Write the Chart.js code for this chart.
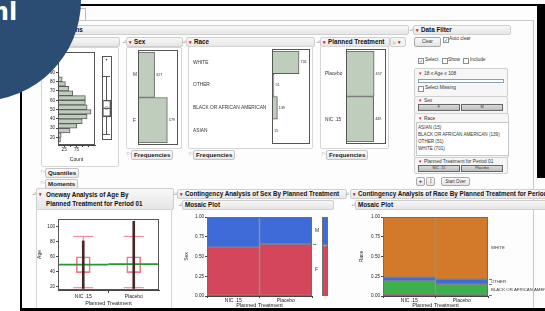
<!DOCTYPE html>
<html>
<head>
<meta charset="utf-8">
<script src="https://cdn.jsdelivr.net/npm/chart.js@4.4.1/dist/chart.umd.min.js"></script>
<style>
body { margin: 0; width: 545px; height: 311px; overflow: hidden; background: #fff; position: relative; font-family: "Liberation Sans", Arial, sans-serif; color: #222; }
.a { position: absolute; }
canvas { position: absolute; }
.hdr { position: absolute; height: 8px; border: 1px solid #cfcfcf; border-radius: 2px; background: linear-gradient(#f7f7f7, #e6e6e6); font: bold 6.3px/8px "Liberation Sans", Arial, sans-serif; color: #111; white-space: nowrap; overflow: hidden; padding-left: 2px; }
.red { color: #d42020; font-style: normal; font-size: 5px; margin-right: 2px; }
.tri { position: absolute; color: #a0a0a0; font-size: 5px; line-height: 8px; }
.pan { position: absolute; border: 1px solid #d6d6d6; background: #fff; border-radius: 2px; }
.btnb { position: absolute; height: 8px; border: 1px solid #c4c4c4; border-radius: 2px; background: linear-gradient(#fbfbfb, #e9e9e9); font: bold 6.2px/8px "Liberation Sans", Arial, sans-serif; padding: 0 2px; white-space: nowrap; }
.play { position: absolute; color: #9a9a9a; font-size: 4.5px; line-height: 8px; }
.t5 { position: absolute; font-size: 4.8px; line-height: 6px; color: #333; white-space: nowrap; }
.cb { position: absolute; width: 4px; height: 4px; border: 1px solid #8e8e8e; background: #fff; font-size: 5px; line-height: 4px; color: #2350c8; text-align: center; }
.btn { position: absolute; border: 1px solid #a9a9a9; border-radius: 2px; background: linear-gradient(#fafafa, #e4e4e4); font-size: 4.5px; text-align: center; color: #333; }
.btn2 { position: absolute; height: 5px; border: 1px solid #666; background: linear-gradient(#dadada, #bcbcbc); font-size: 3.8px; line-height: 5px; text-align: center; color: #333; }
.fbox { position: absolute; border: 1px solid #d0d0d0; background: #f6f6f6; border-radius: 2px; }
</style>
</head>
<body>
<!-- window -->
<div class="a" style="left:21px;top:4px;width:524px;height:307px;background:#fdfdfd"></div>
<div class="a" style="left:40px;top:8px;width:44px;height:12px;border:1px solid #bdbdbd;border-bottom:none;background:#fff"></div>
<div class="a" style="left:30px;top:20px;width:503px;height:290px;border-top:1px solid #c8c8c8;border-right:1px solid #c8c8c8"></div>

<!-- top headers -->
<div class="hdr" style="left:30px;top:25px;width:375px"><span style="margin-left:11px">Distributions</span></div>
<span class="tri" style="left:409px;top:25px">⊿</span>
<div class="hdr" style="left:413px;top:25px;width:94px"><i class="red">▾</i>Data Filter</div>

<div class="hdr" style="left:40px;top:37px;width:76px"><i class="red">▾</i>Age</div>
<span class="tri" style="left:122px;top:37px">⊿</span>
<div class="hdr" style="left:126px;top:37px;width:53px"><i class="red">▾</i>Sex</div>
<span class="tri" style="left:182px;top:37px">⊿</span>
<div class="hdr" style="left:186px;top:37px;width:125px"><i class="red">▾</i>Race</div>
<span class="tri" style="left:316px;top:37px">⊿</span>
<div class="hdr" style="left:320px;top:37px;width:66px"><i class="red">▾</i>Planned Treatment</div>
<div class="hdr" style="left:390px;top:37px;width:12px;background:#f4f4f4"><span style="color:#aaa;font-size:4px">▷</span> <i class="red">▾</i></div>

<!-- distribution panels -->
<div class="pan" style="left:41px;top:47px;width:76px;height:118px"></div>
<div class="pan" style="left:126px;top:47px;width:54px;height:100px"></div>
<div class="pan" style="left:188px;top:46px;width:123px;height:101px"></div>
<div class="pan" style="left:320px;top:46px;width:67px;height:101px"></div>

<span class="play" style="left:127px;top:150px">▷</span><div class="btnb" style="left:131px;top:150px">Frequencies</div>
<span class="play" style="left:189px;top:150px">▷</span><div class="btnb" style="left:193px;top:150px">Frequencies</div>
<span class="play" style="left:322px;top:150px">▷</span><div class="btnb" style="left:326px;top:150px">Frequencies</div>
<span class="play" style="left:41px;top:168px">▷</span><div class="btnb" style="left:45px;top:168px">Quantiles</div>
<span class="play" style="left:41px;top:179px">▷</span><div class="btnb" style="left:45px;top:179px">Moments</div>

<!-- data filter -->
<div class="btn" style="left:414px;top:37px;width:25px;height:8px;line-height:8px">Clear</div>
<div class="cb" style="left:443px;top:37px">✓</div><span class="t5" style="left:449px;top:36px">Auto clear</span>
<div class="cb" style="left:418px;top:58px">✓</div><span class="t5" style="left:425px;top:57px">Select</span>
<div class="cb" style="left:442px;top:58px"></div><span class="t5" style="left:448px;top:57px">Show</span>
<div class="cb" style="left:463px;top:58px"></div><span class="t5" style="left:470px;top:57px">Include</span>
<div class="fbox" style="left:414px;top:68px;width:92px;height:27px"></div>
<span class="t5" style="left:419px;top:70px"><i class="red">▾</i>18 ≤ Age ≤ 108</span>
<div class="a" style="left:418px;top:79px;width:84px;height:2px;border:1px solid #8aa0b8;background:#fff"></div>
<div class="cb" style="left:418px;top:86px"></div><span class="t5" style="left:425px;top:85px">Select Missing</span>
<div class="fbox" style="left:414px;top:96px;width:92px;height:16px"></div>
<span class="t5" style="left:419px;top:97px"><i class="red">▾</i>Sex</span>
<div class="btn2" style="left:418px;top:104px;width:40px">F</div>
<div class="btn2" style="left:461px;top:104px;width:40px">M</div>
<div class="fbox" style="left:414px;top:113px;width:93px;height:43px"></div>
<span class="t5" style="left:419px;top:115px"><i class="red">▾</i>Race</span>
<div class="a" style="left:416px;top:122px;width:90px;height:31px;border:1px solid #c8c8c8;background:#fff;overflow:hidden;font-size:4.6px;line-height:7px;padding-top:1px;padding-left:1px;white-space:nowrap;color:#333">ASIAN (15)<br>BLACK OR AFRICAN AMERICAN (139)<br>OTHER (51)<br>WHITE (701)</div>
<div class="fbox" style="left:414px;top:157px;width:92px;height:15px"></div>
<span class="t5" style="left:419px;top:158px"><i class="red">▾</i>Planned Treatment for Period 01</span>
<div class="btn2" style="left:418px;top:165px;width:40px">NIC .15</div>
<div class="btn2" style="left:461px;top:165px;width:40px">Placebo</div>
<div class="btn" style="left:416px;top:177px;width:7px;height:7px;line-height:7px;font-weight:bold;font-size:6px">+</div>
<div class="btn" style="left:426px;top:177px;width:7px;height:7px;line-height:7px;font-weight:bold;font-size:6px">⁝</div>
<div class="btn" style="left:441px;top:177px;width:27px;height:7px;line-height:7px">Start Over</div>

<!-- bottom headers -->
<span class="tri" style="left:32px;top:189px">⊿</span>
<div class="hdr" style="left:36px;top:188px;width:134px;height:19px;line-height:9px;padding-top:1px"><i class="red" style="position:absolute;left:2px;top:1px">▾</i><div style="padding-left:7px">Oneway Analysis of Age By<br>Planned Treatment for Period 01</div></div>
<div class="pan" style="left:36px;top:209px;width:134px;height:110px;border-radius:0"></div>
<span class="tri" style="left:173px;top:189px">⊿</span>
<div class="hdr" style="left:177px;top:189px;width:166px"><i class="red">▾</i>Contingency Analysis of Sex By Planned Treatment</div>
<span class="tri" style="left:178px;top:200px">⊿</span>
<div class="hdr" style="left:182px;top:200px;width:148px">Mosaic Plot</div>
<span class="tri" style="left:345px;top:189px">⊿</span>
<div class="hdr" style="left:350px;top:189px;width:210px"><i class="red">▾</i>Contingency Analysis of Race By Planned Treatment for Period 01</div>
<span class="tri" style="left:351px;top:200px">⊿</span>
<div class="hdr" style="left:355px;top:200px;width:200px">Mosaic Plot</div>

<!-- charts -->
<canvas id="ageHist" width="52" height="118" style="left:44px;top:48px"></canvas>
<canvas id="ageBox" width="21" height="95" style="left:96px;top:50px"></canvas>
<canvas id="sexDist" width="50" height="100" style="left:130px;top:48px"></canvas>
<canvas id="raceDist" width="122" height="100" style="left:190px;top:47px"></canvas>
<canvas id="trtDist" width="66" height="100" style="left:322px;top:47px"></canvas>
<canvas id="oneway" width="134" height="103" style="left:36px;top:208px"></canvas>
<canvas id="sexMosaic" width="140" height="99" style="left:180px;top:212px"></canvas>
<canvas id="sexMargin" width="6" height="79" style="left:322px;top:217px"></canvas>
<canvas id="raceMosaic" width="195" height="99" style="left:350px;top:212px"></canvas>

<!-- window frame -->
<div class="a" style="left:0;top:4px;width:545px;height:2px;background:#000"></div>
<div class="a" style="left:537px;top:4px;width:8px;height:174px;background:#000"></div>
<div class="a" style="left:20px;top:4px;width:2px;height:307px;background:#000"></div>
<div class="a" style="left:20px;top:308px;width:525px;height:3px;background:#000"></div>

<!-- badge -->
<div class="a" style="left:-121px;top:-101px;width:202px;height:202px;border-radius:50%;background:#2c4d73"></div>
<div class="a" style="left:-16px;top:0;font:bold 24px/24px 'DejaVu Sans', sans-serif;color:#fff">ml</div>

<script>
// Age distribution (bins of 5 years)
const ageBinStart = [15, 20, 25, 30, 35, 40, 45, 50, 55, 60, 65, 70, 75, 80, 85, 105];
const ageBinCount = [10, 13, 49, 76, 98, 118, 134, 118, 111, 111, 60, 44, 30, 17, 4, 1];
const ageTicks = [20, 30, 40, 50, 60, 70, 80, 90, 100, 110];
const countTicks = [25, 50, 75, 100, 125];
const countTickLabels = ['25', '', '75', '', ''];
// outlier box plot: low whisker, q1, median, q3, high whisker
const ageQuantiles = [18, 39, 49, 59, 87];
const ageMean = 49.5;
const ageShortestHalf = [41, 59];
const ageOutliers = [107];

// one-way distributions
const sexLevels = ['M', 'F'];
const sexCounts = [327, 579];
const raceLevels = ['WHITE', 'OTHER', 'BLACK OR AFRICAN AMERICAN', 'ASIAN'];
const raceCounts = [701, 51, 139, 15];
const trtLevels = ['Placebo', 'NIC .15'];
const trtCounts = [457, 449];

// oneway analysis of age by treatment
const trtGroups = ['NIC .15', 'Placebo'];
const groupMin = [18, 18];
const groupMax = [81, 107];
const groupQ1 = [39, 39];
const groupQ3 = [60, 60];
const groupLow = [19, 19];
const groupHigh = [87, 87];
const groupMean = [49.6, 50.2];
const onewayTicks = [20, 30, 40, 50, 60, 70, 80, 90, 100, 110];

// contingency tables, levels listed bottom to top
const sexMosaicLevels = ['F', 'M'];
const sexByTrt = [[278, 301], [171, 156]];
const sexColors = ['#d4475a', '#3f6bd8'];
const raceMosaicLevels = ['ASIAN', 'BLACK OR AFRICAN AMERICAN', 'OTHER', 'WHITE'];
const raceByTrt = [[9, 6], [76, 63], [22, 29], [342, 359]];
const raceColors = ['#8e2443', '#3cb04a', '#3f6bd8', '#d27a29'];
const mosaicTicks = [0, 0.25, 0.5, 0.75, 1];

Chart.defaults.font.family = '"Liberation Sans", Arial, sans-serif';
Chart.defaults.font.size = 4.6;
Chart.defaults.color = '#222';
Chart.defaults.animation = false;
Chart.defaults.responsive = false;
Chart.defaults.devicePixelRatio = 1;
Chart.defaults.plugins.legend.display = false;
Chart.defaults.plugins.tooltip.enabled = false;

// white plot area with a thin frame around it
Chart.register({
  id: 'frame',
  defaults: { color: '#6a6a6a', padY: 0 },
  beforeDraw(chart, args, o) {
    const a = chart.chartArea, ctx = chart.ctx;
    ctx.save();
    ctx.fillStyle = '#fff';
    ctx.fillRect(a.left, a.top - o.padY, a.right - a.left, a.bottom - a.top + 2 * o.padY);
    ctx.restore();
  },
  afterDraw(chart, args, o) {
    const a = chart.chartArea, ctx = chart.ctx;
    ctx.save();
    ctx.strokeStyle = o.color;
    ctx.lineWidth = 1;
    ctx.strokeRect(Math.round(a.left) + 0.5, Math.round(a.top - o.padY) + 0.5,
      Math.round(a.right - a.left) - 1, Math.round(a.bottom - a.top + 2 * o.padY) - 1);
    ctx.restore();
  }
});

const fixW = w => s => { s.width = w; };
const fixH = h => s => { s.height = h; };
const setTicks = list => s => { s.ticks = list.map(v => ({ value: v })); };
const axisGrid = { drawOnChartArea: false, tickLength: 2, color: '#444', offset: false };

// count written at the end of each bar
const barCounts = {
  id: 'barCounts',
  afterDatasetsDraw(chart) {
    const ctx = chart.ctx, meta = chart.getDatasetMeta(0), vals = chart.data.datasets[0].data;
    ctx.save();
    ctx.font = '3.8px "Liberation Sans", Arial';
    ctx.fillStyle = '#333';
    ctx.textBaseline = 'middle';
    meta.data.forEach((bar, i) => ctx.fillText(String(vals[i]), bar.x + 1.5, bar.y));
    ctx.restore();
  }
};

// level names at the right of a mosaic, centred on the last column
const sideLabels = {
  id: 'sideLabels',
  afterDraw(chart, args, o) {
    const ctx = chart.ctx, a = chart.chartArea, y = chart.scales.y;
    const last = chart.data.labels.length - 1;
    const spots = [];
    let base = 0;
    chart.data.datasets.forEach(ds => {
      const v = ds.data[last];
      spots.push({ text: ds.label, mid: y.getPixelForValue(base + v / 2), edge: y.getPixelForValue(base + v) });
      base += v;
    });
    ctx.save();
    ctx.font = o.size + 'px "Liberation Sans", Arial';
    ctx.fillStyle = '#333';
    ctx.strokeStyle = '#777';
    ctx.textBaseline = 'middle';
    let prev = -99;
    spots.reverse().forEach(s => {
      if (s.mid - prev >= 6.5) {
        ctx.fillText(s.text, a.right + o.gap, s.mid);
        prev = s.mid;
      }
      if (s.edge > a.top + 1) {
        ctx.beginPath();
        ctx.moveTo(a.right + 1, Math.round(s.edge) + 0.5);
        ctx.lineTo(a.right + 4, Math.round(s.edge) + 0.5);
        ctx.stroke();
      }
    });
    ctx.restore();
  }
};

// histogram of age
new Chart(document.getElementById('ageHist'), {
  type: 'bar',
  data: {
    datasets: [{
      data: ageBinStart.map((b, i) => ({ x: ageBinCount[i], y: b + 2.5 })),
      backgroundColor: '#bfcdbd',
      borderColor: '#5e5e5e',
      borderWidth: 1,
      borderSkipped: false,
      barPercentage: 1,
      categoryPercentage: 1
    }]
  },
  options: {
    indexAxis: 'y',
    layout: { padding: { top: 2, right: 1 } },
    plugins: { frame: { color: '#555' } },
    scales: {
      y: {
        type: 'linear', min: 12, max: 112, offset: false,
        afterFit: fixW(14), afterBuildTicks: setTicks(ageTicks),
        ticks: { padding: 1 }, grid: axisGrid, border: { color: '#444' }
      },
      x: {
        type: 'linear', min: 0, max: 150,
        afterFit: fixH(21), afterBuildTicks: setTicks(countTicks),
        ticks: { padding: 0, maxRotation: 0, autoSkip: false, callback: v => countTickLabels[countTicks.indexOf(v)] },
        grid: axisGrid, border: { color: '#444' },
        title: { display: true, text: 'Count', font: { size: 5 }, padding: { top: 0, bottom: 3 } }
      }
    }
  }
});

// outlier box plot of age
const mid = 0.5;
new Chart(document.getElementById('ageBox'), {
  type: 'bar',
  data: {
    datasets: [
      { type: 'scatter', data: ageOutliers.map(v => ({ x: mid, y: v })), pointRadius: 0.8, backgroundColor: '#333', borderWidth: 0 },
      { type: 'scatter', data: [{ x: mid, y: ageQuantiles[2] }], pointStyle: 'line', pointRadius: 4.5, borderColor: '#555', borderWidth: 1 },
      { type: 'scatter', data: [{ x: mid, y: ageMean }], pointStyle: 'rectRot', pointRadius: 2, backgroundColor: 'rgba(0,0,0,0)', borderColor: '#777', borderWidth: 0.8 },
      { type: 'scatter', data: [{ x: mid, y: ageQuantiles[0] }, { x: mid, y: ageQuantiles[4] }], pointStyle: 'line', pointRadius: 3.5, borderColor: '#555', borderWidth: 1 },
      { type: 'line', data: [{ x: mid, y: ageQuantiles[0] }, { x: mid, y: ageQuantiles[1] }], borderColor: '#555', borderWidth: 1, pointRadius: 0 },
      { type: 'line', data: [{ x: mid, y: ageQuantiles[3] }, { x: mid, y: ageQuantiles[4] }], borderColor: '#555', borderWidth: 1, pointRadius: 0 },
      { type: 'line', data: [{ x: 0.17, y: ageShortestHalf[0] }, { x: 0.17, y: ageShortestHalf[1] }], borderColor: '#e0606e', borderWidth: 1, pointRadius: 0 },
      { type: 'bar', data: [{ x: mid, y: [ageQuantiles[1], ageQuantiles[3]] }], backgroundColor: 'rgba(0,0,0,0)', borderColor: '#555', borderWidth: 1, borderSkipped: false, barThickness: 9 }
    ]
  },
  options: {
    plugins: { frame: { color: '#555' } },
    scales: {
      x: { type: 'linear', min: 0, max: 1, offset: false, display: false },
      y: { type: 'linear', min: 12, max: 112, display: false }
    }
  }
});

// level bars for the categorical distributions
function distChart(id, levels, counts, max, yWidth) {
  new Chart(document.getElementById(id), {
    type: 'bar',
    data: {
      labels: levels,
      datasets: [{
        data: counts,
        backgroundColor: '#bfcdbd',
        borderColor: '#5e5e5e',
        borderWidth: 1,
        borderSkipped: false,
        barPercentage: 1,
        categoryPercentage: 1
      }]
    },
    options: {
      indexAxis: 'y',
      layout: { padding: { left: 3, right: 2, top: 4, bottom: 5 } },
      plugins: { frame: { color: '#555', padY: 2 } },
      scales: {
        x: { min: 0, max: max, display: false },
        y: {
          afterFit: fixW(yWidth),
          grid: { display: false }, border: { display: false },
          ticks: { crossAlign: 'far', padding: 0, font: { size: 4.8 }, color: '#333' }
        }
      }
    },
    plugins: [barCounts]
  });
}
distChart('sexDist', sexLevels, sexCounts, 790, 5);
distChart('raceDist', raceLevels, raceCounts, 985, 79);
distChart('trtDist', trtLevels, trtCounts, 650, 21);

// oneway analysis: groups sit at x = i + 0.5
const centers = trtGroups.map((g, i) => i + 0.5);
new Chart(document.getElementById('oneway'), {
  type: 'bar',
  data: {
    datasets: [
      { type: 'bar', grouped: false, data: centers.map((c, i) => ({ x: c, y: [groupMin[i], groupMax[i]] })), backgroundColor: '#4a2626', barThickness: 2 },
      ...centers.map((c, i) => ({ type: 'line', data: [{ x: i, y: groupMean[i] }, { x: i + 1, y: groupMean[i] }], borderColor: '#1f9a36', borderWidth: 1.6, pointRadius: 0 })),
      { type: 'bar', grouped: false, data: centers.map((c, i) => ({ x: c, y: [groupQ1[i], groupQ3[i]] })), backgroundColor: 'rgba(0,0,0,0)', borderColor: '#f07a88', borderWidth: 1, borderSkipped: false, barThickness: 14 },
      { type: 'scatter', data: centers.flatMap((c, i) => [{ x: c, y: groupLow[i] }, { x: c, y: groupHigh[i] }]), pointStyle: 'line', pointRadius: 10, borderColor: '#f07a88', borderWidth: 1 },
      ...centers.map((c, i) => ({ type: 'line', data: [{ x: c, y: groupLow[i] }, { x: c, y: groupHigh[i] }], borderColor: '#f07a88', borderWidth: 1, pointRadius: 0 }))
    ]
  },
  options: {
    layout: { padding: { top: 4, right: 2 } },
    plugins: { frame: { color: '#555' } },
    scales: {
      x: {
        type: 'linear', min: 0, max: trtGroups.length, offset: false,
        afterFit: fixH(21),
        afterBuildTicks: s => { s.ticks = []; trtGroups.forEach((g, i) => { if (i) s.ticks.push({ value: i }); s.ticks.push({ value: i + 0.5 }); }); },
        ticks: { padding: 1, maxRotation: 0, autoSkip: false, font: { size: 5 }, callback: v => (v % 1 ? trtGroups[Math.floor(v)] : '') },
        grid: { drawOnChartArea: false, offset: false, tickLength: 3, tickColor: c => (c.tick && c.tick.value % 1 === 0 ? '#444' : 'rgba(0,0,0,0)') },
        border: { color: '#444' },
        title: { display: true, text: 'Planned Treatment', font: { size: 5.5 }, padding: { top: 0, bottom: 4 } }
      },
      y: {
        type: 'linear', min: 16, max: 110,
        afterFit: fixW(22), afterBuildTicks: setTicks(onewayTicks),
        ticks: { padding: 1 }, grid: axisGrid, border: { color: '#444' },
        title: { display: true, text: 'Age', font: { size: 5 }, padding: { top: 1, bottom: 0 } }
      }
    }
  }
});

// mosaic plots
function shares(table, k, j) {
  const total = table.reduce((s, row) => s + row[j], 0);
  return table[k][j] / total;
}
function mosaicChart(id, levels, table, colors, opts) {
  new Chart(document.getElementById(id), {
    type: 'bar',
    data: {
      labels: trtGroups,
      datasets: levels.map((lvl, k) => ({
        label: lvl,
        data: trtGroups.map((g, j) => shares(table, k, j)),
        backgroundColor: colors[k],
        borderColor: '#858585',
        borderWidth: 1,
        borderSkipped: false,
        barPercentage: 1,
        categoryPercentage: 1
      }))
    },
    options: {
      layout: { padding: opts.padding },
      plugins: { frame: { color: '#6e6e6e' }, sideLabels: { gap: 3, size: opts.labelSize } },
      scales: {
        x: {
          stacked: true, afterFit: fixH(15),
          ticks: { padding: 0, maxRotation: 0, font: { size: 5 } },
          grid: { drawOnChartArea: false, tickLength: 2, color: '#444' },
          border: { color: '#444' },
          title: { display: true, text: 'Planned Treatment', font: { size: 5.5 }, padding: { top: 0, bottom: 2 } }
        },
        y: {
          stacked: true, min: 0, max: 1,
          afterFit: fixW(opts.yWidth), afterBuildTicks: setTicks(mosaicTicks),
          ticks: { padding: 1, callback: v => v.toFixed(2) },
          grid: axisGrid, border: { color: '#444' },
          title: { display: true, text: opts.title, font: { size: 5 }, padding: { top: opts.titlePad, bottom: 0 } }
        }
      }
    },
    plugins: [sideLabels]
  });
}
mosaicChart('sexMosaic', sexMosaicLevels, sexByTrt, sexColors,
  { padding: { top: 5, right: 8 }, yWidth: 27, title: 'Sex', titlePad: 4, labelSize: 5 });
mosaicChart('raceMosaic', raceMosaicLevels, raceByTrt, raceColors,
  { padding: { top: 5, right: 57, left: 7 }, yWidth: 26, title: 'Race', titlePad: 2, labelSize: 4.3 });

// marginal bar of sex beside the mosaic
const sexTotals = sexByTrt.map(row => row.reduce((s, v) => s + v, 0));
const sexAll = sexTotals.reduce((s, v) => s + v, 0);
new Chart(document.getElementById('sexMargin'), {
  type: 'bar',
  data: {
    labels: ['All'],
    datasets: sexMosaicLevels.map((lvl, k) => ({
      label: lvl,
      data: [sexTotals[k] / sexAll],
      backgroundColor: sexColors[k],
      borderColor: '#858585',
      borderWidth: 1,
      borderSkipped: false,
      barPercentage: 1,
      categoryPercentage: 1
    }))
  },
  options: {
    plugins: { frame: { color: '#6e6e6e' } },
    scales: {
      x: { stacked: true, display: false },
      y: { stacked: true, min: 0, max: 1, display: false }
    }
  }
});
</script>
</body>
</html>
